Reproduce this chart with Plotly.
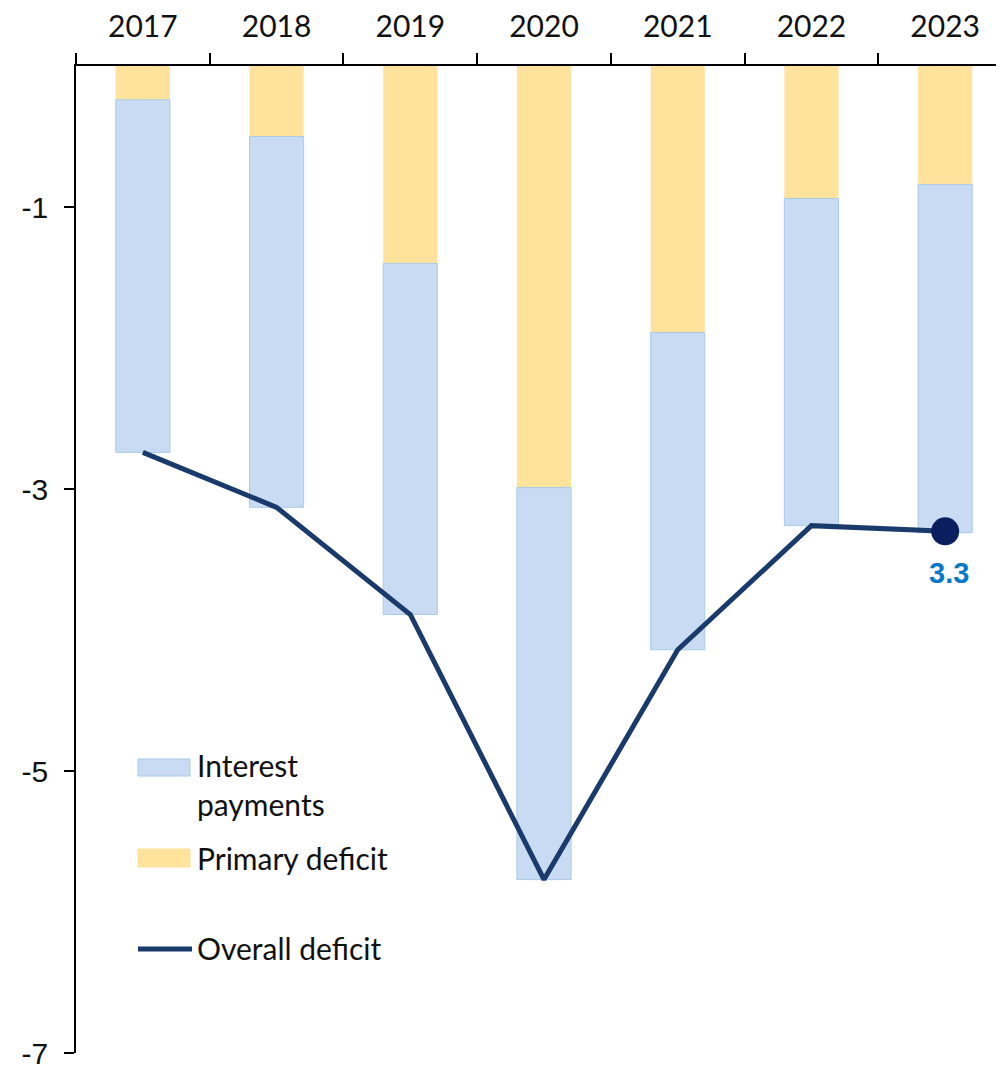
import plotly.graph_objects as go

years = ["2017", "2018", "2019", "2020", "2021", "2022", "2023"]
primary_deficit = [-0.24, -0.50, -1.40, -2.99, -1.89, -0.94, -0.84]
interest_payments = [-2.50, -2.63, -2.49, -2.78, -2.25, -2.32, -2.47]
overall_deficit = [-2.74, -3.13, -3.89, -5.77, -4.14, -3.26, -3.30]
y_ticks = [-1, -3, -5, -7]
end_label = "3.3"

GEO = "Lato"
fig = go.Figure()
fig.add_trace(go.Bar(x=years, y=primary_deficit, name="Primary deficit",
                     marker=dict(color="#FFE29C", line=dict(width=0)),
                     width=0.405, showlegend=False))
fig.add_trace(go.Bar(x=years, y=interest_payments, name="Interest payments",
                     marker=dict(color="#C9DBF3", line=dict(color="#A9CBE8", width=1)),
                     width=0.405, showlegend=False))
fig.add_trace(go.Scatter(x=years, y=overall_deficit, mode="lines", name="Overall deficit",
                         line=dict(color="#1A3A6C", width=5), showlegend=False))
fig.add_trace(go.Scatter(x=[years[-1]], y=[overall_deficit[-1]], mode="markers",
                         marker=dict(color="#0B1F5E", size=28, symbol="circle"),
                         showlegend=False, cliponaxis=False))
fig.add_annotation(xref="x", yref="y", x=len(years) - 1, y=overall_deficit[-1],
                   text="<b>" + end_label + "</b>",
                   showarrow=False, yshift=-42, xshift=4,
                   font=dict(family="Liberation Sans", size=29, color="#0B77C8"))

# page has an 8px body margin, so figure coords = reference coords - 8
OFF = 8
W, H, L, B = 928, 987, 76 - OFF, 1053 - OFF
def px(x): return (x - OFF - L) / W
def py(y): return (B - (y - OFF)) / H

legend_items = [
    ("#C9DBF3", "#A9CBE8", 759, 776, "Interest<br>payments", 785),
    ("#FFE29C", "#FFE29C", 849, 867, "Primary deficit", 858),
]
for fill, edge, y0, y1, label, ty in legend_items:
    fig.add_shape(type="rect", xref="paper", yref="paper", x0=px(138), x1=px(190),
                  y0=py(y1), y1=py(y0), fillcolor=fill, line=dict(color=edge, width=1))
    fig.add_annotation(xref="paper", yref="paper", x=px(195), y=py(ty), text=label,
                       showarrow=False, xanchor="left", yanchor="middle", align="left",
                       font=dict(family=GEO, size=30, color="#111111"))
fig.add_shape(type="line", xref="paper", yref="paper", x0=px(138), x1=px(192),
              y0=py(949), y1=py(949), line=dict(color="#1A3A6C", width=5))
fig.add_annotation(xref="paper", yref="paper", x=px(195), y=py(948), text="Overall deficit",
                   showarrow=False, xanchor="left", yanchor="middle",
                   font=dict(family=GEO, size=30, color="#111111"))

fig.update_layout(
    width=1004, height=1065, barmode="relative",
    margin=dict(l=L, r=1004 - L - W, t=66 - OFF, b=1065 - B),
    plot_bgcolor="white", paper_bgcolor="white",
    xaxis=dict(side="top", range=[-0.5, 6.44], showline=True, linecolor="black", linewidth=1.5,
               ticks="outside", tickson="boundaries", ticklen=11, tickcolor="black",
               tickwidth=1.5, showgrid=False, automargin=False, ticklabelstandoff=15,
               ticklabeloverflow="allow",
               tickfont=dict(family=GEO, size=30, color="#111111")),
    yaxis=dict(range=[-7, 0], tickvals=y_ticks, ticktext=[str(v) for v in y_ticks],
               showline=True, linecolor="black", linewidth=1.5, ticks="outside", ticklen=10,
               tickcolor="black", tickwidth=1.5, showgrid=False, zeroline=False,
               automargin=False, ticklabelstandoff=10, ticklabeloverflow="allow",
               tickfont=dict(family="Liberation Sans", size=30, color="#111111")),
)
fig.write_html("out.html")
